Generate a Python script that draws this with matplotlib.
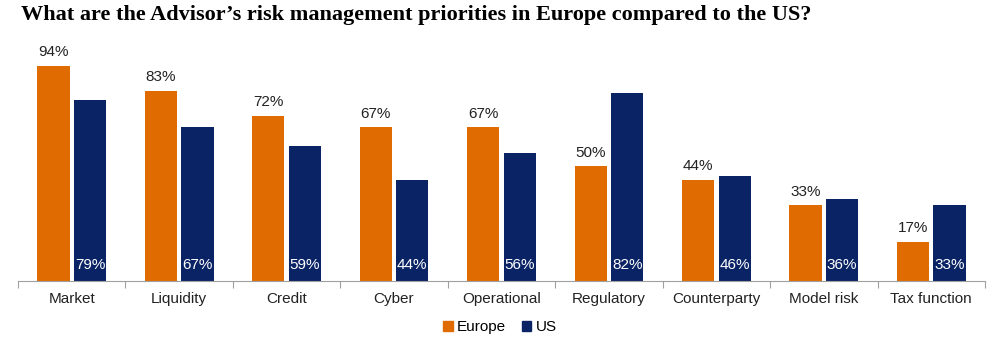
import matplotlib
matplotlib.use("Agg")
import matplotlib.pyplot as plt
import numpy as np
from matplotlib.patches import Patch

categories = ["Market", "Liquidity", "Credit", "Cyber", "Operational", "Regulatory",
              "Counterparty", "Model risk", "Tax function"]
europe = [94, 83, 72, 67, 67, 50, 44, 33, 17]
us = [79, 67, 59, 44, 56, 82, 46, 36, 33]

ORANGE = "#E06B00"
NAVY = "#0A2365"

plt.rcParams['font.family'] = ['Liberation Sans', 'DejaVu Sans']

fig = plt.figure(figsize=(10, 3.52), dpi=100)
ax = fig.add_axes([0.018, 0.2017, 0.967, 0.69])

x = np.arange(len(categories))
w = 0.30
off = 0.17
ax.bar(x - off, europe, w, color=ORANGE)
ax.bar(x + off, us, w, color=NAVY)

for xi, v in zip(x, europe):
    ax.text(xi - off, v + 3, f"{v}%", ha="center", va="bottom", fontsize=11, color="#222222")
for xi, v in zip(x, us):
    ax.text(xi + off, 4, f"{v}%", ha="center", va="bottom", fontsize=11, color="white")

ax.set_xlim(-0.5, len(categories) - 0.5)
ax.set_ylim(0, 106)
ax.set_yticks([])
for s in ["top", "right", "left"]:
    ax.spines[s].set_visible(False)
ax.spines["bottom"].set_color("#A0A0A0")
ax.set_xticks(np.arange(len(categories) + 1) - 0.5)
ax.set_xticklabels([])
ax.tick_params(axis="x", length=5, color="#A0A0A0")
ax.set_xticks(x, minor=True)
ax.set_xticklabels(categories, minor=True, fontsize=11, color="#222222")
ax.tick_params(axis="x", which="minor", length=0, pad=8)

fig.text(0.021, 0.958, "What are the Advisor\u2019s risk management priorities in Europe compared to the US?",
         fontsize=16, fontweight="bold", family=["Liberation Serif", "DejaVu Serif"], ha="left", va="center")

handles = [Patch(color=ORANGE, label="Europe"), Patch(color=NAVY, label="US")]
fig.legend(handles=handles, loc="center", bbox_to_anchor=(0.5, 0.07), ncol=2, frameon=False,
           fontsize=11, handlelength=0.6, handleheight=0.6, handletextpad=0.3, columnspacing=1.0)

fig.savefig("out.png", dpi=100)
